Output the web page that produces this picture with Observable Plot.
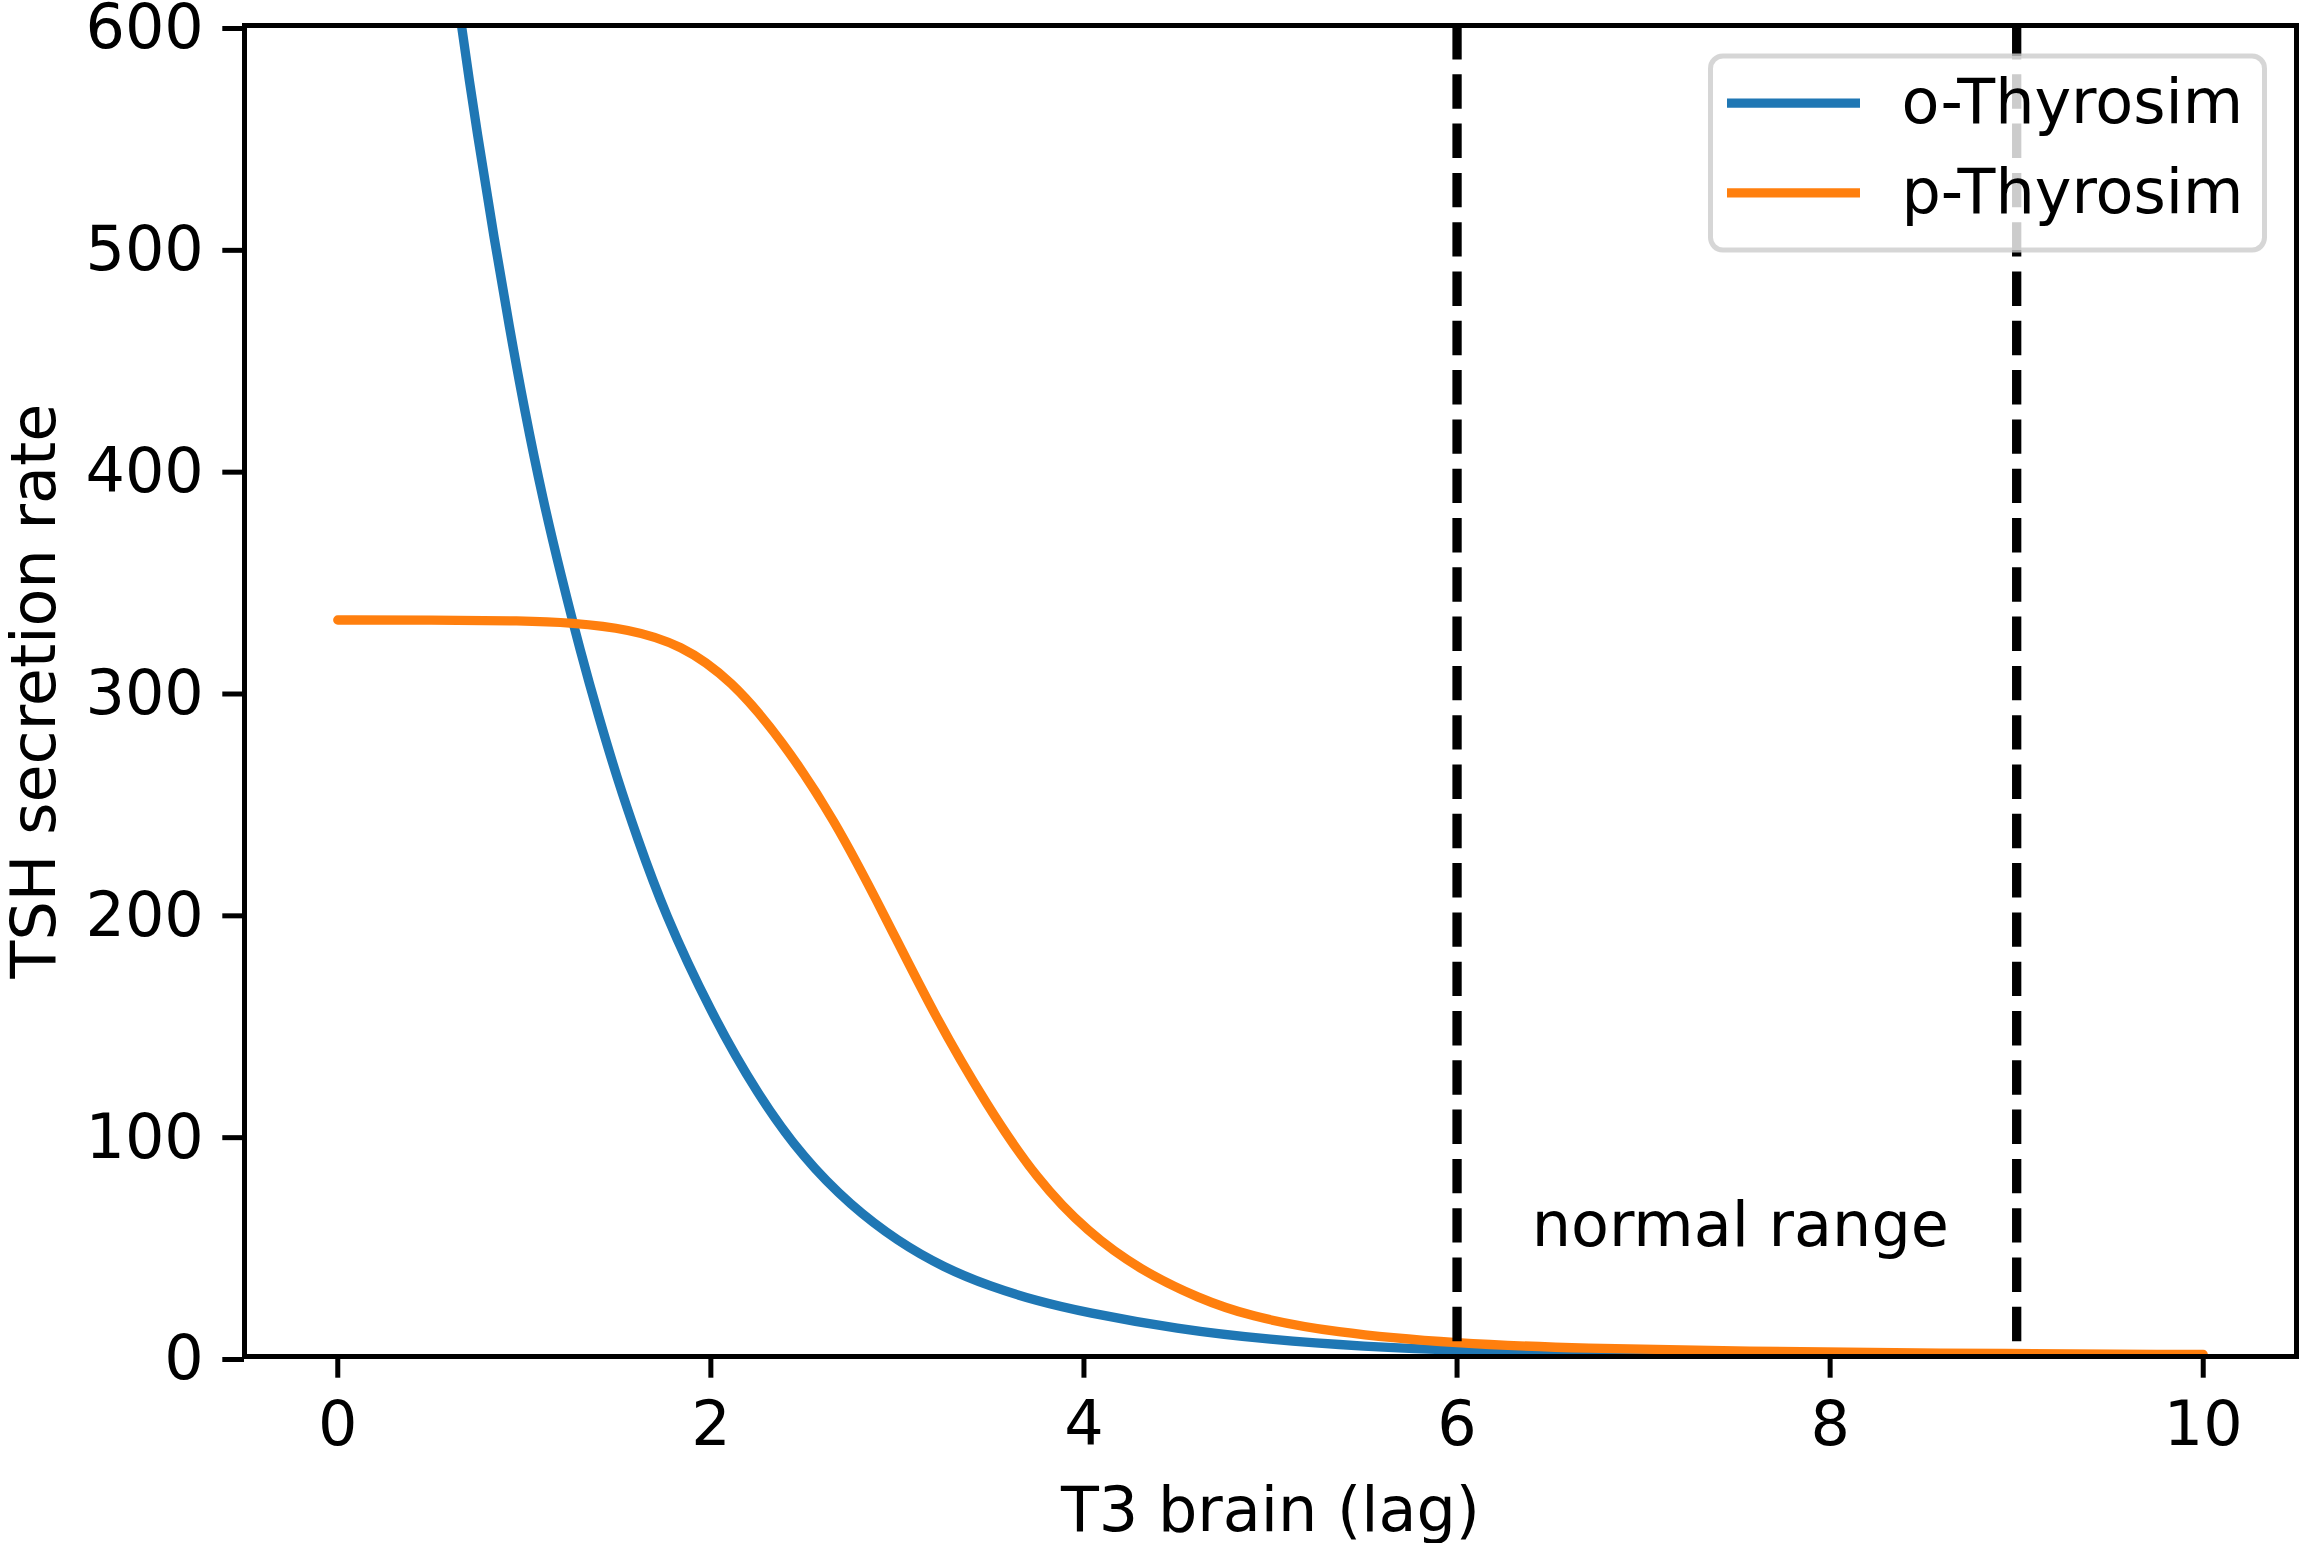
<!DOCTYPE html>
<html>
<head>
<meta charset="utf-8">
<script src="https://cdn.jsdelivr.net/npm/d3@7"></script>
<script src="https://cdn.jsdelivr.net/npm/@observablehq/plot@0.6"></script>
<style>
  html, body { margin: 0; padding: 0; background: white; }
  #chart svg { display: block; }
</style>
</head>
<body>
<div id="chart"></div>
<script>
// ---- data ----
const seriesNames = ["o-Thyrosim", "p-Thyrosim"];
const seriesColors = ["#1f77b4", "#ff7f0e"];

const oX = [0, 0.3, 0.5, 0.66, 0.75, 0.84, 0.92, 1.0, 1.1, 1.2, 1.3, 1.4, 1.5, 1.6, 1.75, 2.0, 2.25, 2.5, 2.75, 3.0, 3.25, 3.5, 3.75, 4.0, 4.5, 5.0, 5.5, 6.0, 7.0, 8.0, 9.0, 10.0];
const oY = [1160, 860, 705, 600, 550, 503, 464, 427, 386, 351, 318, 288, 260, 235, 200, 155, 118, 89, 68, 52, 40, 31.5, 25, 20, 12.3, 7.5, 4.5, 2.7, 1.0, 0.37, 0.14, 0.05];

const pX = [0, 0.5, 1.0, 1.25, 1.56, 1.84, 2.11, 2.38, 2.66, 2.93, 3.2, 3.48, 3.75, 4.02, 4.3, 4.62, 4.88, 5.33, 6.0, 6.67, 7.56, 8.5, 10.0];
const pY = [332, 332, 331.7, 330.8, 328, 321, 305, 278, 242.5, 199, 153.5, 113, 79.5, 56, 39, 26, 18.3, 10.8, 5.8, 3.6, 2.3, 1.5, 0.9];

const rangeBounds = [6, 9];
const noteText = ["normal range"];
const noteX = [6.4];
const noteY = [50];

const xTicks = [0, 2, 4, 6, 8, 10];
const yTicks = [0, 100, 200, 300, 400, 500, 600];
const xDomain = [-0.5, 10.5];
const yDomain = [0, 600];
const xLabel = "T3 brain (lag)";
const yLabel = "TSH secretion rate";

// ---- build tables ----
const oData = oX.map((x, i) => ({x, y: oY[i], s: seriesNames[0]}));
const pData = pX.map((x, i) => ({x, y: pY[i], s: seriesNames[1]}));
const notes = noteText.map((t, i) => ({t, x: noteX[i], y: noteY[i]}));

const W = 2303, H = 1543;
const mL = 244, mR = 7, mT = 25, mB = 187;
const lw = 9.3, spine = 5, tick = 21.7;

const chart = Plot.plot({
  width: W, height: H,
  marginLeft: mL, marginRight: mR, marginTop: mT, marginBottom: mB,
  style: "font-family: 'DejaVu Sans', sans-serif; font-size: 62px; background: white; color: black; overflow: visible;",
  x: {domain: xDomain},
  y: {domain: yDomain},
  marks: [
    Plot.line(oData, {x: "x", y: "y", stroke: seriesColors[0], strokeWidth: lw, curve: "basis", clip: true}),
    Plot.line(pData, {x: "x", y: "y", stroke: seriesColors[1], strokeWidth: lw, curve: "basis", clip: true}),
    Plot.ruleX(rangeBounds, {stroke: "black", strokeWidth: lw, strokeDasharray: "34.4,14.9"}),
    Plot.text(notes, {x: "x", y: "y", text: "t", textAnchor: "start", lineAnchor: "bottom", fill: "black", fontSize: 62}),
    Plot.axisX({
      ticks: xTicks, tickSize: tick, tickPadding: 23, strokeWidth: spine, fontSize: 62,
      label: xLabel, labelAnchor: "center", labelArrow: "none", labelOffset: 174
    }),
    Plot.axisY({
      ticks: yTicks, tickSize: tick, tickPadding: 19, strokeWidth: spine, fontSize: 62, dy: 3,
      label: yLabel, labelAnchor: "center", labelArrow: "none", labelOffset: 234
    }),
    Plot.frame({stroke: "black", strokeWidth: spine})
  ]
});

// ---- legend (upper right, matplotlib style) ----
const svg = d3.select(chart);
const lgW = 554, lgH = 194;
const lg = svg.append("g")
  .attr("text-anchor", "start")
  .attr("transform", `translate(${W - mR - 31.5 - lgW},${mT + 31})`);
lg.append("rect")
  .attr("width", lgW).attr("height", lgH).attr("rx", 12.4).attr("ry", 12.4)
  .attr("fill", "white").attr("fill-opacity", 0.8)
  .attr("stroke", "#cccccc").attr("stroke-opacity", 0.8).attr("stroke-width", spine);
seriesNames.forEach((name, i) => {
  const cy = 47.2 + i * 89.6;
  lg.append("line")
    .attr("x1", 16.5).attr("x2", 149.5).attr("y1", cy).attr("y2", cy)
    .attr("stroke", seriesColors[i]).attr("stroke-width", lw);
  lg.append("text")
    .attr("x", 191).attr("y", cy + 20)
    .attr("text-anchor", "start")
    .attr("fill", "black").attr("font-size", 62)
    .attr("font-family", "'DejaVu Sans', sans-serif")
    .text(name);
});

document.getElementById("chart").appendChild(chart);
</script>
</body>
</html>
